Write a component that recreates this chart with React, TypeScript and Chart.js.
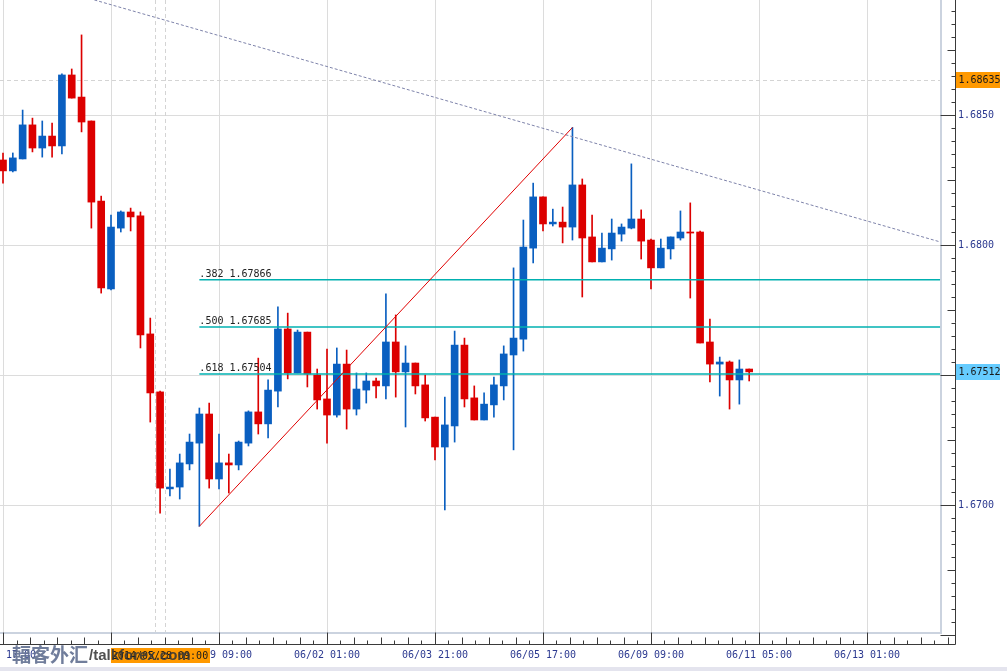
import React, { useEffect, useRef } from 'react';
import { Chart, registerables } from 'chart.js';

Chart.register(...registerables);

// ---- data (H4 candles, index 0 .. 76) ----
const opens = [
  1.68327, 1.68285, 1.68331, 1.68462, 1.68373, 1.68419, 1.68381, 1.68654, 1.68569, 1.68477,
  1.68169, 1.67831, 1.68065, 1.68127, 1.68112, 1.67658, 1.67435, 1.67062, 1.67069, 1.67158,
  1.67238, 1.67350, 1.67100, 1.67162, 1.67154, 1.67238, 1.67358, 1.67312, 1.67438, 1.67677,
  1.67508, 1.67665, 1.67500, 1.67408, 1.67346, 1.67542, 1.67369, 1.67442, 1.67477, 1.67458,
  1.67627, 1.67512, 1.67546, 1.67462, 1.67338, 1.67223, 1.67304, 1.67615, 1.67412, 1.67327,
  1.67385, 1.67458, 1.67577, 1.67638, 1.67988, 1.68185, 1.68081, 1.68088, 1.68069, 1.68231,
  1.68031, 1.67935, 1.67985, 1.68042, 1.68065, 1.68100, 1.68019, 1.67912, 1.67985, 1.68027,
  1.68050, 1.68050, 1.67627, 1.67542, 1.67550, 1.67481, 1.67523,
];
const highs = [
  1.68354, 1.68354, 1.68519, 1.68488, 1.68477, 1.68469, 1.68658, 1.68677, 1.68808, 1.68477,
  1.68188, 1.68115, 1.68131, 1.68142, 1.68127, 1.67719, 1.67438, 1.67138, 1.67196, 1.67273,
  1.67373, 1.67392, 1.67273, 1.67196, 1.67246, 1.67362, 1.67565, 1.67481, 1.67762, 1.67738,
  1.67673, 1.67665, 1.67523, 1.67600, 1.67604, 1.67596, 1.67508, 1.67508, 1.67488, 1.67812,
  1.67731, 1.67612, 1.67546, 1.67500, 1.67338, 1.67415, 1.67669, 1.67642, 1.67458, 1.67431,
  1.67492, 1.67612, 1.67912, 1.68096, 1.68238, 1.68185, 1.68138, 1.68146, 1.68452, 1.68254,
  1.68115, 1.68046, 1.68100, 1.68081, 1.68312, 1.68135, 1.68023, 1.68023, 1.68031, 1.68131,
  1.68162, 1.68054, 1.67715, 1.67569, 1.67554, 1.67558, 1.67523,
];
const lows = [
  1.68238, 1.68281, 1.68331, 1.68358, 1.68338, 1.68338, 1.68350, 1.68565, 1.68435, 1.68065,
  1.67815, 1.67827, 1.68050, 1.68054, 1.67604, 1.67319, 1.66969, 1.67035, 1.67023, 1.67135,
  1.66918, 1.67065, 1.67062, 1.67046, 1.67135, 1.67227, 1.67273, 1.67258, 1.67377, 1.67485,
  1.67508, 1.67454, 1.67369, 1.67238, 1.67338, 1.67292, 1.67346, 1.67392, 1.67412, 1.67408,
  1.67415, 1.67300, 1.67427, 1.67323, 1.67173, 1.66981, 1.67242, 1.67377, 1.67327, 1.67327,
  1.67338, 1.67404, 1.67212, 1.67592, 1.67931, 1.68054, 1.68073, 1.68008, 1.68019, 1.67800,
  1.67935, 1.67935, 1.67942, 1.68015, 1.68062, 1.67946, 1.67831, 1.67912, 1.67946, 1.68019,
  1.67796, 1.67623, 1.67473, 1.67419, 1.67369, 1.67388, 1.67477,
];
const closes = [
  1.68285, 1.68335, 1.68462, 1.68373, 1.68419, 1.68381, 1.68654, 1.68565, 1.68473, 1.68165,
  1.67835, 1.68069, 1.68127, 1.68108, 1.67654, 1.67431, 1.67065, 1.67069, 1.67162, 1.67242,
  1.67350, 1.67100, 1.67162, 1.67154, 1.67242, 1.67358, 1.67312, 1.67442, 1.67677, 1.67508,
  1.67665, 1.67504, 1.67404, 1.67346, 1.67542, 1.67369, 1.67446, 1.67477, 1.67458, 1.67627,
  1.67512, 1.67546, 1.67458, 1.67335, 1.67223, 1.67308, 1.67615, 1.67408, 1.67327, 1.67388,
  1.67462, 1.67581, 1.67642, 1.67992, 1.68185, 1.68081, 1.68088, 1.68069, 1.68231, 1.68027,
  1.67935, 1.67988, 1.68046, 1.68069, 1.68100, 1.68015, 1.67912, 1.67988, 1.68031, 1.68050,
  1.68046, 1.67623, 1.67542, 1.67550, 1.67481, 1.67523, 1.67512,
];

const xTickIndex = [0, 11, 22, 33, 44, 55, 66, 77, 88];
const xTickLabels = [
  '05/23 17:00', '05/27 13:00', '05/29 09:00', '06/02 01:00', '06/03 21:00',
  '06/05 17:00', '06/09 09:00', '06/11 05:00', '06/13 01:00',
];
const xTickHidden = [11]; // covered by the crosshair time label
const yTickValues = [1.665, 1.67, 1.675, 1.68, 1.685];

const fibRatios = ['.382', '.500', '.618'];
const fibPrices = [1.67866, 1.67685, 1.67504];
const fibStartIdx = 20;
const fibEndIdx = 95.44;

const swingLow = { x: 20, y: 1.66918 };
const swingHigh = { x: 58, y: 1.68452 };
const trendStart = { x: 0, y: 1.69043 };
const trendEnd = { x: 95.44, y: 1.68012 };

const markerPrice = 1.68635;
const lastPrice = 1.67512;
const crosshairIdx = [15.5, 16.5];
const crosshairLabel = '2014/05/28 09:00';
const watermarkCn = '輻客外汇';
const watermarkEn = '/talkforex.com';

const BLUE = '#0A5FC0';
const RED = '#DC0000';
const MONO = '"DejaVu Sans Mono", monospace';

const candleColors = closes.map((c, i) => (c >= opens[i] ? BLUE : RED));

const decorPlugin = {
  id: 'decor',
  beforeDatasetsDraw(chart: any) {
    const { ctx, chartArea, scales } = chart;
    const x = scales.x;
    const y = scales.y;
    const frameR = chartArea.right - 15;
    const frameB = chartArea.bottom - 12;
    ctx.save();
    // grid
    ctx.strokeStyle = '#DCDCDC';
    ctx.lineWidth = 1;
    ctx.beginPath();
    yTickValues.forEach((v) => {
      const py = Math.round(y.getPixelForValue(v)) + 0.5;
      if (py > frameB) return;
      ctx.moveTo(0, py);
      ctx.lineTo(frameR, py);
    });
    xTickIndex.forEach((i) => {
      const px = Math.round(x.getPixelForValue(i)) + 0.5;
      ctx.moveTo(px, 0);
      ctx.lineTo(px, frameB);
    });
    ctx.stroke();
    // dashed marker lines
    ctx.strokeStyle = '#D4D4D4';
    ctx.setLineDash([4, 3]);
    ctx.beginPath();
    const my = Math.round(y.getPixelForValue(markerPrice)) + 0.5;
    ctx.moveTo(0, my);
    ctx.lineTo(frameR, my);
    crosshairIdx.forEach((i) => {
      const px = Math.round(x.getPixelForValue(i)) + 0.5;
      ctx.moveTo(px, 0);
      ctx.lineTo(px, frameB);
    });
    ctx.stroke();
    ctx.setLineDash([]);
    // frame
    ctx.strokeStyle = '#CBD3DF';
    ctx.lineWidth = 2;
    ctx.beginPath();
    ctx.moveTo(0, frameB + 1);
    ctx.lineTo(frameR + 1, frameB + 1);
    ctx.lineTo(frameR + 1, 0);
    ctx.stroke();
    ctx.restore();
  },
  afterDraw(chart: any) {
    const { ctx, chartArea, scales } = chart;
    const x = scales.x;
    const y = scales.y;
    const axisX = chartArea.right + 0.5;
    const axisY = chartArea.bottom + 0.5;
    const frameB = chartArea.bottom - 12;
    ctx.save();
    // axis lines
    ctx.strokeStyle = '#3A3A3A';
    ctx.lineWidth = 1;
    ctx.beginPath();
    ctx.moveTo(axisX, 0);
    ctx.lineTo(axisX, axisY);
    ctx.moveTo(0, axisY);
    ctx.lineTo(axisX, axisY);
    // y ticks
    for (let k = 0; k < 60; k++) {
      const m = 16650 + k * 5;
      const v = m / 10000;
      if (v > y.max) break;
      const len = m % 50 === 0 ? 15 : m % 25 === 0 ? 8 : 4;
      const py = Math.round(y.getPixelForValue(v)) + 0.5;
      ctx.moveTo(axisX - len, py);
      ctx.lineTo(axisX, py);
    }
    // x ticks
    for (let j = 0; j < xTickIndex.length; j++) {
      for (let k = 0; k < 8; k++) {
        const v = xTickIndex[j] + k * 1.375;
        if (v > x.max) break;
        const len = k === 0 ? 12 : k % 2 === 0 ? 7 : 4;
        const px = Math.round(x.getPixelForValue(v)) + 0.5;
        ctx.moveTo(px, axisY - len);
        ctx.lineTo(px, axisY);
      }
    }
    ctx.stroke();

    // fib labels
    ctx.font = '10px ' + MONO;
    ctx.fillStyle = '#222222';
    ctx.textBaseline = 'alphabetic';
    ctx.textAlign = 'left';
    const fx = x.getPixelForValue(fibStartIdx);
    fibPrices.forEach((p, i) => {
      const py = y.getPixelForValue(p);
      ctx.fillText(fibRatios[i] + ' ' + p.toFixed(5), fx, py - 3);
    });

    // price labels on the axis
    const drawPriceBox = (price: number, color: string) => {
      const py = Math.round(y.getPixelForValue(price));
      ctx.fillStyle = color;
      ctx.fillRect(axisX + 0.5, py - 8, 44, 16);
      ctx.fillStyle = '#1A1A1A';
      ctx.textBaseline = 'middle';
      ctx.fillText(price.toFixed(5), axisX + 3, py + 0.5);
    };
    drawPriceBox(markerPrice, '#FF9900');
    drawPriceBox(lastPrice, '#66CCFF');

    // crosshair time label
    ctx.fillStyle = '#FF9900';
    ctx.fillRect(111, frameB + 16, 99, 15);
    ctx.fillStyle = '#1A1A1A';
    ctx.textAlign = 'center';
    ctx.textBaseline = 'middle';
    ctx.fillText(crosshairLabel, 160, frameB + 24);

    // bottom band
    ctx.fillStyle = '#E4E4EE';
    ctx.fillRect(0, 667, chart.width, 4);

    // watermark
    ctx.textAlign = 'left';
    ctx.textBaseline = 'middle';
    ctx.font = 'bold 19px "Noto Sans CJK SC", sans-serif';
    ctx.fillStyle = 'rgba(100,114,146,0.92)';
    ctx.fillText(watermarkCn, 12, 655);
    ctx.font = 'bold 15px "Liberation Sans", sans-serif';
    ctx.fillStyle = 'rgba(55,55,55,0.88)';
    ctx.fillText(watermarkEn, 89, 656);
    ctx.restore();
  },
};

export default function App() {
  const ref = useRef<HTMLCanvasElement>(null);
  useEffect(() => {
    document.body.style.margin = '0';
    const idx = opens.map((_, i) => i);
    const chart = new Chart(ref.current as HTMLCanvasElement, {
      type: 'bar',
      data: {
        datasets: [
          {
            type: 'line',
            data: [trendStart, trendEnd],
            borderColor: '#7E83AA',
            borderWidth: 1,
            borderDash: [3, 2],
            pointRadius: 0,
            order: 1,
          } as any,
          ...fibPrices.map((p) => ({
            type: 'line',
            data: [
              { x: fibStartIdx, y: p },
              { x: fibEndIdx, y: p },
            ],
            borderColor: '#00B0B0',
            borderWidth: 1.5,
            pointRadius: 0,
            order: 1,
          })) as any,
          {
            type: 'line',
            data: [swingLow, swingHigh],
            borderColor: '#E00000',
            borderWidth: 1,
            pointRadius: 0,
            order: 0,
          } as any,
          {
            type: 'bar',
            data: idx.map((i) => ({ x: i, y: [lows[i], highs[i]] })),
            backgroundColor: candleColors,
            barThickness: 1,
            grouped: false,
            order: 3,
          } as any,
          {
            type: 'bar',
            data: idx.map((i) => ({ x: i, y: [opens[i], closes[i]] })),
            backgroundColor: candleColors,
            barThickness: 7,
            minBarLength: 1,
            grouped: false,
            order: 2,
          } as any,
        ],
      },
      options: {
        animation: false,
        responsive: false,
        devicePixelRatio: 1,
        events: [],
        layout: { padding: 0 },
        plugins: { legend: { display: false }, tooltip: { enabled: false } },
        scales: {
          x: {
            type: 'linear',
            min: -0.30556,
            max: 96.963,
            offset: false,
            grid: { display: false, drawTicks: false },
            border: { display: false },
            afterBuildTicks: (s: any) => {
              s.ticks = xTickIndex.map((v) => ({ value: v }));
            },
            afterFit: (s: any) => {
              s.height = 27;
              s.paddingLeft = 0;
              s.paddingRight = 0;
            },
            ticks: {
              autoSkip: false,
              maxRotation: 0,
              minRotation: 0,
              padding: 5,
              color: '#2B3990',
              font: { family: MONO, size: 10 },
              callback: (v: any) => {
                const n = Number(v);
                if (xTickHidden.includes(n)) return '';
                const k = xTickIndex.indexOf(n);
                return k >= 0 ? xTickLabels[k] : '';
              },
            },
          },
          y: {
            type: 'linear',
            position: 'right',
            min: 1.6646538,
            max: 1.6894231,
            grid: { display: false, drawTicks: false },
            border: { display: false },
            afterBuildTicks: (s: any) => {
              s.ticks = yTickValues.map((v) => ({ value: v }));
            },
            afterFit: (s: any) => {
              s.width = 52;
              s.paddingTop = 0;
              s.paddingBottom = 0;
            },
            ticks: {
              padding: 3,
              color: '#2B3990',
              font: { family: MONO, size: 10 },
              callback: (v: any) => (Number(v) < 1.667 ? '' : Number(v).toFixed(4)),
            },
          },
        },
      },
      plugins: [decorPlugin],
    } as any);
    return () => chart.destroy();
  }, []);
  return (
    <div style={{ position: 'relative', width: 1007, height: 671, background: '#ffffff' }}>
      <canvas ref={ref} width={1007} height={671} style={{ display: 'block' }} />
    </div>
  );
}
